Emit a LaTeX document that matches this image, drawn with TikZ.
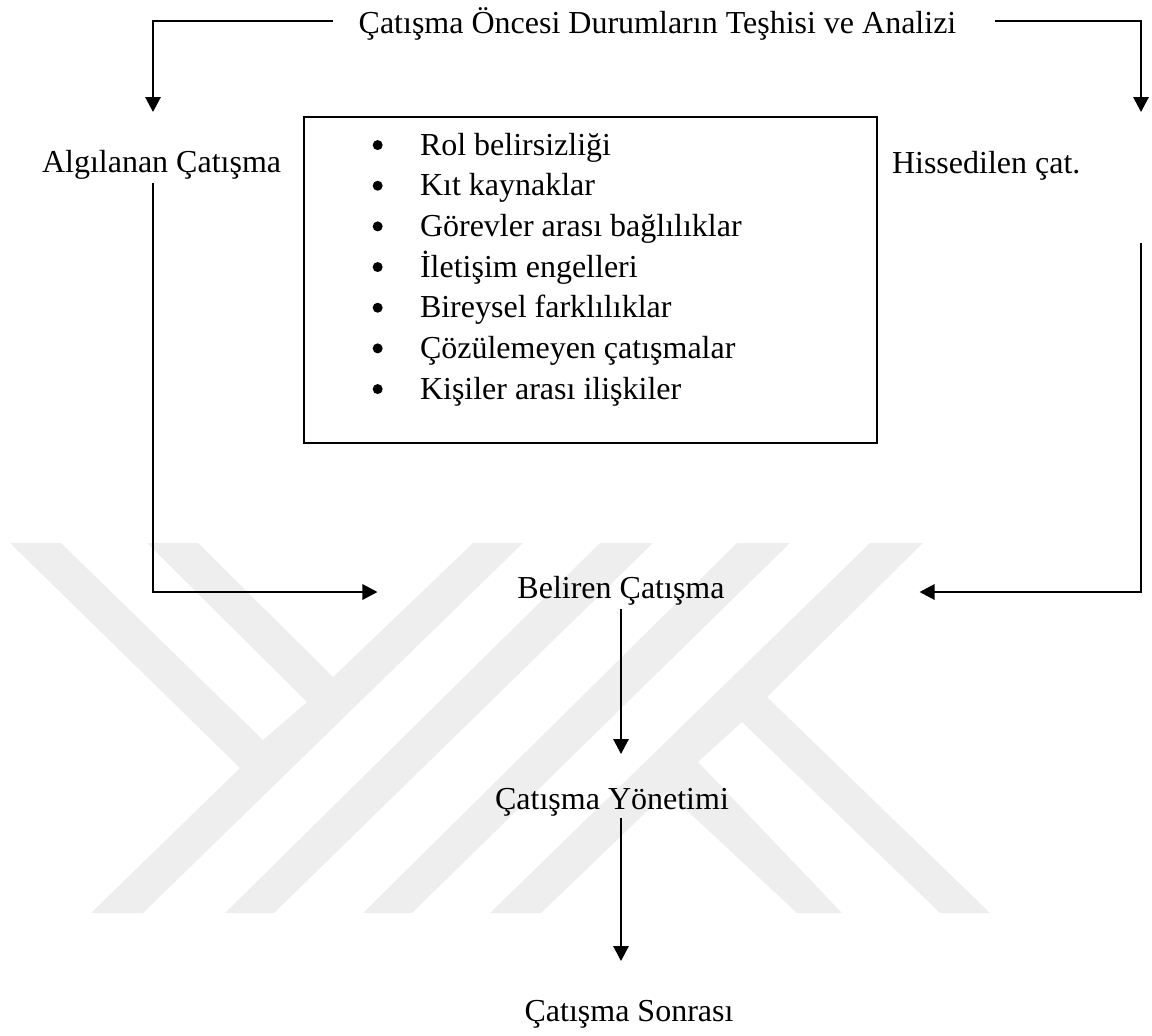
\documentclass[tikz,border=0pt]{standalone}
\usepackage{xcolor}
\usepackage{fontspec}
\setmainfont{Liberation Serif}
\usepackage{tikz}
\usetikzlibrary{positioning,arrows.meta}
\definecolor{watermarkgray}{HTML}{EEEEEE}
\def\rowpitchdepth{9pt}
\tikzset{
  labeltext/.style={inner sep=0pt, outer sep=0pt, font=\fontsize{24pt}{28pt}\selectfont},
  listrow/.style={labeltext, text height=21.5pt, text depth=\rowpitchdepth},
  listdot/.style={circle, fill=black, inner sep=0pt, outer sep=0pt, minimum size=7.5pt, yshift=1.2pt},
  flowline/.style={line width=1.5pt, line join=miter, -{Triangle[length=11.25pt,width=11.5pt]}},
  watermark/.style={fill=watermarkgray, draw=none}
}

\begin{document}
\begin{tikzpicture}[x=0.75pt,y=-0.75pt]
  \useasboundingbox (0,0) rectangle (1152,1035);

  \fill[watermark] (10,543) -- (61,543) -- (263,740) -- (307,702) -- (147,543) -- (198,543)
    -- (333,677) -- (473,543) -- (523,543) -- (143,913) -- (91,913) -- (240,768) -- cycle;
  \fill[watermark] (600,543) -- (653,543) -- (274,913) -- (225,913) -- cycle;
  \fill[watermark] (737,543) -- (790,543) -- (412,913) -- (363,913) -- cycle;
  \fill[watermark] (870,543) -- (923,543) -- (767,697) -- (990,913) -- (940,913) -- (742,722)
    -- (698,762) -- (842,913) -- (797,913) -- (667,792) -- (541,913) -- (490,913) -- cycle;

  \node[labeltext, inner xsep=19.5pt, text height=24pt, text depth=5.4pt] (title) at (657.5,20.6)
    {Çatışma Öncesi Durumların Teşhisi ve Analizi};

  \coordinate (algitip) at (153,112);
  \coordinate (hisstip) at (1141,112);

  \node[draw, line width=1.3pt, anchor=north west, minimum width=429.75pt, minimum height=244.5pt] (causebox) at (303,116) {};

  \node[labeltext, text depth=7.7pt, anchor=base west] (algi) at (42,172.7) {Algılanan Çatışma};
  \node[labeltext, text depth=52.5pt, anchor=base west] (hiss) at (892,173) {Hissedilen çat.};

  \node[listrow, anchor=base west] (rowa) at (420,155) {Rol belirsizliği};
  \node[listrow, anchor=north west] (rowb) at (rowa.south west) {Kıt kaynaklar};
  \node[listrow, anchor=north west] (rowc) at (rowb.south west) {Görevler arası bağlılıklar};
  \node[listrow, anchor=north west] (rowd) at (rowc.south west) {İletişim engelleri};
  \node[listrow, anchor=north west] (rowe) at (rowd.south west) {Bireysel farklılıklar};
  \node[listrow, anchor=north west] (rowf) at (rowe.south west) {Çözülemeyen çatışmalar};
  \node[listrow, anchor=north west] (rowg) at (rowf.south west) {Kişiler arası ilişkiler};

  \node[listdot, left=28pt of rowa.west] (dota) {};
  \node[listdot, left=28pt of rowb.west] (dotb) {};
  \node[listdot, left=28pt of rowc.west] (dotc) {};
  \node[listdot, left=28pt of rowd.west] (dotd) {};
  \node[listdot, left=28pt of rowe.west] (dote) {};
  \node[listdot, left=28pt of rowf.west] (dotf) {};
  \node[listdot, left=28pt of rowg.west] (dotg) {};

  \node[labeltext, text height=17.25pt, text depth=8.25pt] (beliren) at (621,592) {Beliren Çatışma};
  \node[
    labeltext, text height=41.25pt, text depth=6.75pt,
    below=108.75pt of beliren, xshift=-6.75pt
  ] (yonetim) {Çatışma Yönetimi};
  \node[
    labeltext, text height=45.5pt, text depth=6pt,
    below=107.25pt of yonetim, xshift=12.75pt
  ] (sonra) {Çatışma Sonrası};

  \draw[flowline] (title.west) -| (algitip);
  \draw[flowline] ([xshift=9.75pt]title.east) -| (hisstip);
  \draw[flowline] (algitip |- algi.south) |- ([xshift=-105pt]beliren.west);
  \draw[flowline] (hisstip |- hiss.south) |- ([xshift=146.25pt]beliren.east);
  \draw[flowline] (beliren.south) -- (beliren.south |- yonetim.north);
  \draw[flowline] (beliren.south |- yonetim.south) -- (beliren.south |- sonra.north);

\end{tikzpicture}
\end{document}
